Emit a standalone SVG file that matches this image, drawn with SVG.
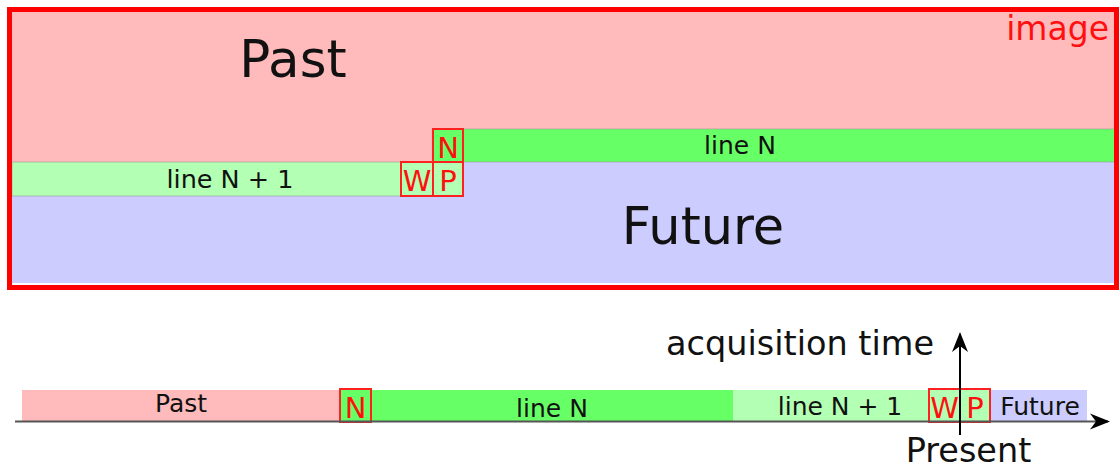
<svg xmlns="http://www.w3.org/2000/svg" width="1120" height="468" viewBox="0 0 1120 468">
<style>
text{font-family:"DejaVu Sans","Liberation Sans",sans-serif;fill:#111}
.past{fill:#ffbbbb}
.lineN{fill:#66ff66}
.lineN1{fill:#b3ffb3}
.fut{fill:#ccccff}
.band{stroke:#999;stroke-opacity:0.6;stroke-width:1}
.box{stroke:#ff2020;stroke-width:2}
.red{fill:#ff1010}
.c{text-anchor:middle}
</style>
<defs>
<marker id="ah2" viewBox="0 0 10 10" refX="9" refY="5" markerWidth="20" markerHeight="20" orient="auto" markerUnits="userSpaceOnUse">
<path d="M0,1 L10,5 L0,9 L3,5 Z" fill="#000"/>
</marker>
</defs>
<g id="image">
<rect x="12" y="12" width="1103" height="150" class="past"/>
<path d="M12,196 H463 V162 H1115 V283 H12 Z" class="fut"/>
<rect x="463" y="129" width="652" height="33" class="lineN band"/>
<rect x="12" y="162" width="389" height="34" class="lineN1 band"/>
<rect x="9.5" y="9.5" width="1107" height="278" fill="none" stroke="#ff0000" stroke-width="5"/>
<text x="1109" y="40" font-size="33" text-anchor="end" class="red">image</text>
<text x="293" y="77" font-size="51.5" class="c">Past</text>
<text x="703" y="244" font-size="51" class="c">Future</text>
<text x="740" y="154" font-size="25" class="c">line N</text>
<text x="230" y="188" font-size="25.5" class="c">line N + 1</text>
</g>
<g id="top-N">
<rect x="433" y="129" width="30" height="33" class="lineN box"/>
<text x="448" y="157.5" font-size="29" class="c red">N</text>
</g>
<g id="top-W">
<rect x="401" y="162" width="32" height="34" class="lineN1 box"/>
<text x="417" y="191" font-size="29" class="c red">W</text>
</g>
<g id="top-P">
<rect x="433" y="162" width="30" height="34" class="lineN1 box"/>
<text x="448" y="191" font-size="29" class="c red">P</text>
</g>
<g id="timeline">
<rect x="22" y="390" width="318" height="31" class="past"/>
<rect x="371" y="390" width="362" height="31" class="lineN"/>
<rect x="733" y="390" width="196" height="31" class="lineN1"/>
<rect x="990" y="390" width="97" height="31" class="fut"/>
<text x="181" y="412" font-size="25" class="c">Past</text>
<text x="552" y="417" font-size="25" class="c">line N</text>
<text x="840" y="415" font-size="25" class="c">line N + 1</text>
<text x="1040" y="415" font-size="25" class="c">Future</text>
</g>
<g id="bottom-N">
<rect x="340" y="389" width="31" height="33" class="lineN box"/>
<text x="355.5" y="418" font-size="29" class="c red">N</text>
</g>
<g id="bottom-W">
<rect x="929" y="389" width="31" height="33" class="lineN1 box"/>
<text x="944.5" y="418" font-size="29" class="c red">W</text>
</g>
<g id="bottom-P">
<rect x="960" y="389" width="30" height="33" class="lineN1 box"/>
<text x="975" y="418" font-size="29" class="c red">P</text>
</g>
<g id="connectors">
<line x1="15" y1="421.5" x2="1108" y2="421.5" stroke="#555" stroke-width="2" marker-end="url(#ah2)"/>
<line x1="960" y1="435" x2="960" y2="334" stroke="#000" stroke-width="2" marker-end="url(#ah2)"/>
</g>
<text x="666" y="355" font-size="33.5">acquisition time</text>
<text x="968.5" y="462" font-size="33.5" class="c">Present</text>
</svg>
